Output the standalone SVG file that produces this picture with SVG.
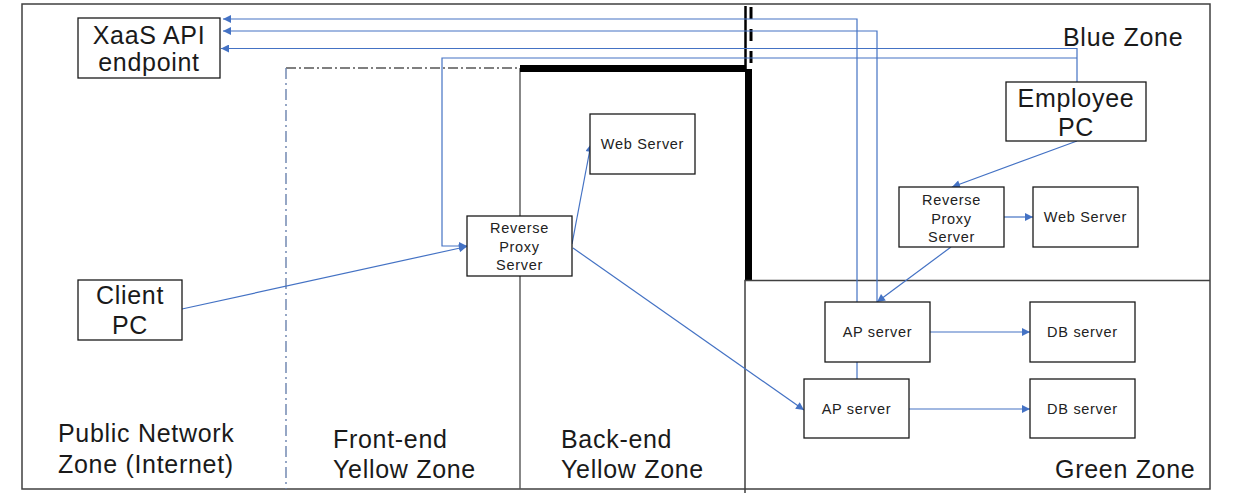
<svg xmlns="http://www.w3.org/2000/svg" width="1240" height="495" viewBox="0 0 1240 495">
<style>
.box{fill:#fff;stroke:#1a1a1a;stroke-width:1.3}
.big{font-family:"Liberation Sans",Arial,sans-serif;font-size:25px;fill:#1a1a1a;letter-spacing:0.7px}
.sm{font-family:"Liberation Sans",Arial,sans-serif;font-size:14.5px;fill:#222;letter-spacing:0.7px}
.mid{text-anchor:middle}
.c{fill:none;stroke:#4472C4;stroke-width:1.2}
.zone{fill:none;stroke:#404040;stroke-width:1.5}
</style>
<defs>
<marker id="ah" viewBox="0 0 10 10" refX="10" refY="5" markerWidth="10" markerHeight="8" markerUnits="userSpaceOnUse" orient="auto">
<path d="M0,0 L10,5 L0,10 z" fill="#4472C4"/>
</marker>
</defs>
<rect width="1240" height="495" fill="#fff"/>

<g id="zones">
<rect x="22" y="4" width="1188" height="485" class="zone"/>
<line x1="286" y1="68" x2="520" y2="68" stroke="#7f7f7f" stroke-width="2.2" stroke-dasharray="10 3 2 3"/>
<line x1="286" y1="68" x2="286" y2="489" stroke="#6a82ad" stroke-width="1.4" stroke-dasharray="11 4 2 4"/>
<line x1="520" y1="68" x2="520" y2="489" stroke="#555" stroke-width="1.4"/>
<line x1="520" y1="68.5" x2="745" y2="68.5" stroke="#000" stroke-width="7"/>
<line x1="748.5" y1="69" x2="748.5" y2="281" stroke="#000" stroke-width="7"/>
<line x1="745.5" y1="6" x2="745.5" y2="69" stroke="#000" stroke-width="2.5"/>
<line x1="751" y1="7" x2="751" y2="64" stroke="#000" stroke-width="3" stroke-dasharray="12 10"/>
<path d="M745,493 V280.5 H1210" class="zone"/>
<text x="1063" y="46" class="big">Blue Zone</text>
<text x="1055" y="478" class="big">Green Zone</text>
<text x="58" y="442" class="big">Public Network</text>
<text x="58" y="473" class="big">Zone (Internet)</text>
<text x="333" y="448" class="big">Front-end</text>
<text x="333" y="478" class="big">Yellow Zone</text>
<text x="561" y="448" class="big">Back-end</text>
<text x="561" y="478" class="big">Yellow Zone</text>
</g>

<g id="connectors">
<polyline class="c" points="857,379 857,19 223,19" marker-end="url(#ah)"/>
<polyline class="c" points="877,302 877,31 223,31" marker-end="url(#ah)"/>
<polyline class="c" points="1077,82 1077,48.5 221,48.5" marker-end="url(#ah)"/>
<polyline class="c" points="1077,58 442,58 442,246 467,246" marker-end="url(#ah)"/>
<line class="c" x1="182" y1="309" x2="467" y2="246.5" marker-end="url(#ah)"/>
<line class="c" x1="572" y1="244" x2="591" y2="144" marker-end="url(#ah)"/>
<line class="c" x1="573" y1="248" x2="804" y2="410" marker-end="url(#ah)"/>
<line class="c" x1="1077" y1="141" x2="952" y2="187" marker-end="url(#ah)"/>
<line class="c" x1="1004" y1="217" x2="1033" y2="217" marker-end="url(#ah)"/>
<line class="c" x1="951" y1="247" x2="877" y2="302" marker-end="url(#ah)"/>
<line class="c" x1="930" y1="332" x2="1030" y2="332" marker-end="url(#ah)"/>
<line class="c" x1="909" y1="409" x2="1030" y2="409" marker-end="url(#ah)"/>
</g>

<g id="xaas">
<rect x="78" y="18" width="142" height="60" class="box"/>
<text x="149" y="44" class="big mid">XaaS API</text>
<text x="149" y="71" class="big mid">endpoint</text>
</g>
<g id="client-pc">
<rect x="78" y="280" width="104" height="60" class="box"/>
<text x="130" y="304" class="big mid">Client</text>
<text x="130" y="334" class="big mid">PC</text>
</g>
<g id="rp-front">
<rect x="467" y="216" width="105" height="60" class="box"/>
<text x="519.5" y="233" class="sm mid">Reverse</text>
<text x="519.5" y="251.5" class="sm mid">Proxy</text>
<text x="519.5" y="270" class="sm mid">Server</text>
</g>
<g id="web-back">
<rect x="590" y="114" width="105" height="60" class="box"/>
<text x="642.5" y="149" class="sm mid">Web Server</text>
</g>
<g id="employee-pc">
<rect x="1006" y="82" width="140" height="59" class="box"/>
<text x="1076" y="107" class="big mid">Employee</text>
<text x="1076" y="136" class="big mid">PC</text>
</g>
<g id="rp-blue">
<rect x="899" y="187" width="105" height="60" class="box"/>
<text x="951.5" y="205" class="sm mid">Reverse</text>
<text x="951.5" y="223.5" class="sm mid">Proxy</text>
<text x="951.5" y="242" class="sm mid">Server</text>
</g>
<g id="web-blue">
<rect x="1033" y="187" width="105" height="60" class="box"/>
<text x="1085.5" y="222" class="sm mid">Web Server</text>
</g>
<g id="ap1">
<rect x="825" y="302" width="105" height="60" class="box"/>
<text x="877.5" y="337" class="sm mid">AP server</text>
</g>
<g id="ap2">
<rect x="804" y="379" width="105" height="59" class="box"/>
<text x="856.5" y="414" class="sm mid">AP server</text>
</g>
<g id="db1">
<rect x="1030" y="302" width="105" height="60" class="box"/>
<text x="1082.5" y="337" class="sm mid">DB server</text>
</g>
<g id="db2">
<rect x="1030" y="379" width="105" height="59" class="box"/>
<text x="1082.5" y="414" class="sm mid">DB server</text>
</g>
</svg>
